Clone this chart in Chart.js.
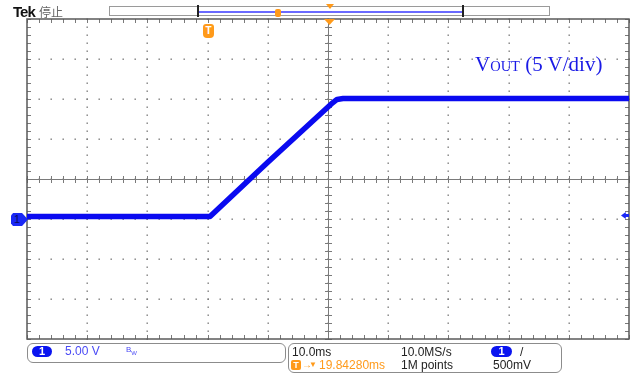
<!DOCTYPE html>
<html>
<head>
<meta charset="utf-8">
<script src="https://cdn.jsdelivr.net/npm/chart.js@4.4.1/dist/chart.umd.min.js"></script>
<style>
  body { margin: 0; background: #fff; }
  #wrap { position: relative; width: 633px; height: 376px; overflow: hidden; font-family: "Liberation Sans", Arial, sans-serif; }
  #wrap canvas { position: absolute; left: 0; top: 0; }
  .t { position: absolute; white-space: nowrap; font-size: 12px; line-height: 12px; color: #222; }
  .box { position: absolute; border: 1.5px solid #8c8c8c; border-radius: 6px; box-sizing: border-box; }
  .oval { position: absolute; background: #0a14f0; color: #fff; border-radius: 6px; font-size: 11px; line-height: 11px; text-align: center; font-weight: bold; }
  .orange { color: #ff9a1a; }
</style>
</head>
<body>
<div id="wrap">
  <canvas id="scope" width="633" height="376"></canvas>

  <!-- шапка -->
  <div class="t" style="left:13px;top:4px;font-size:15px;line-height:15px;font-weight:bold;letter-spacing:-1px;color:#111;">Tek</div>
  <div class="t" style="left:39px;top:5px;font-family:'Noto Sans CJK SC';font-size:12px;line-height:14px;color:#666;">停止</div>
  <div style="position:absolute;left:109px;top:6px;width:441px;height:10px;border:1px solid #9a9a9a;box-sizing:border-box;"></div>
  <div style="position:absolute;left:197px;top:5px;width:2px;height:12px;background:#222;"></div>
  <div style="position:absolute;left:462px;top:5px;width:2px;height:12px;background:#222;"></div>
  <div style="position:absolute;left:199px;top:11px;width:263px;height:2px;background:#6a6aff;"></div>
  <div style="position:absolute;left:275px;top:9px;width:6px;height:8px;background:#ff9a1a;border-radius:2px;"></div>
  <div style="position:absolute;left:326px;top:4px;width:8px;height:5px;background:#ff9a1a;clip-path:polygon(0 0,100% 0,50% 100%);"></div>
  <div style="position:absolute;left:324px;top:19px;width:11px;height:6px;background:#ff9a1a;clip-path:polygon(0 0,100% 0,50% 100%);"></div>
  <div style="position:absolute;left:203px;top:24px;width:11px;height:14px;background:#ff9a1a;border-radius:3px 3px 4px 4px;color:#fff;font-size:10px;line-height:13px;text-align:center;font-weight:bold;">T</div>

  <!-- подпись -->
  <div class="t" style="left:475px;top:54px;font-family:'Liberation Serif',serif;font-size:21px;line-height:21px;color:#1a1ae6;">V<span style="font-size:14.5px;">OUT</span> (5 V/div)</div>

  <!-- маркеры канала -->
  <div style="position:absolute;left:11px;top:213px;width:17px;height:13px;background:#1a28f5;clip-path:polygon(0 20%,12% 0,65% 0,100% 50%,65% 100%,12% 100%,0 80%);color:#0a0a60;font-size:11px;line-height:13px;padding-left:3px;box-sizing:border-box;">1</div>
  <div style="position:absolute;left:621px;top:212px;width:8px;height:7px;background:#1a28f5;clip-path:polygon(0 50%,60% 0,60% 30%,100% 30%,100% 70%,60% 70%,60% 100%);"></div>

  <!-- низ слева -->
  <div class="box" style="left:27px;top:343px;width:259px;height:20px;"></div>
  <div class="oval" style="left:32px;top:346px;width:20px;height:11px;">1</div>
  <div class="t" style="left:65px;top:345px;color:#4a4af5;">5.00 V</div>
  <div class="t" style="left:126px;top:346px;color:#4a4af5;font-size:8px;line-height:8px;">B<sub style="font-size:6px;">W</sub></div>

  <!-- низ справа -->
  <div class="box" style="left:288px;top:343px;width:274px;height:30px;"></div>
  <div class="t" style="left:292px;top:346px;">10.0ms</div>
  <div class="t" style="left:401px;top:346px;">10.0MS/s</div>
  <div class="oval" style="left:491px;top:346px;width:21px;height:11px;">1</div>
  <div class="t" style="left:520px;top:346px;">/</div>
  <div style="position:absolute;left:291px;top:360px;width:10px;height:10px;background:#ff9a1a;border-radius:2px;color:#fff;font-size:9px;line-height:10px;text-align:center;font-weight:bold;">T</div>
  <div class="t orange" style="left:302px;top:359px;font-size:10px;">→</div>
  <div class="t orange" style="left:309px;top:359px;font-size:8px;line-height:12px;">▼</div>
  <div class="t orange" style="left:319px;top:359px;">19.84280ms</div>
  <div class="t" style="left:401px;top:359px;">1M points</div>
  <div class="t" style="left:493px;top:359px;">500mV</div>
</div>

<script>
// осциллограмма канала 1, время в мс относительно центра экрана, напряжение в вольтах
const timeMs = [-50, -40, -30, -25, -19.6, -10, 0.5, 1.5, 2.5, 5, 10, 20, 30, 40, 50];
const voltsV = [0.3, 0.3, 0.3, 0.3, 0.3, 7.1, 14.35, 14.95, 15.05, 15.05, 15.05, 15.05, 15.05, 15.05, 15.05];

// сетка: 10 мс/дел, 5 В/дел, по 5 мелких делений
const timeDiv = 10;
const voltDiv = 5;
const timeRange = [-50, 50];
const voltRange = [-15, 25];

// рисует сетку осциллографа по шкалам графика
const graticule = {
	id: "graticule",
	beforeDatasetsDraw(chart) {
		const { ctx, chartArea: a, scales: { x, y } } = chart;
		const cx = x.getPixelForValue(0);
		const cy = y.getPixelForValue(voltRange[0] + 4 * voltDiv);
		const xMinor = [];
		const yMinor = [];
		for (let t = timeRange[0]; t <= timeRange[1] + 1e-6; t += timeDiv / 5) xMinor.push(x.getPixelForValue(t));
		for (let v = voltRange[0]; v <= voltRange[1] + 1e-6; v += voltDiv / 5) yMinor.push(y.getPixelForValue(v));
		ctx.save();
		// точки
		ctx.fillStyle = "#7a7a7a";
		for (let t = timeRange[0] + timeDiv; t < timeRange[1]; t += timeDiv) {
			const px = Math.round(x.getPixelForValue(t));
			yMinor.forEach((py) => ctx.fillRect(px - 0.5, Math.round(py) - 0.5, 1.4, 1.4));
		}
		for (let v = voltRange[0] + voltDiv; v < voltRange[1]; v += voltDiv) {
			const py = Math.round(y.getPixelForValue(v));
			xMinor.forEach((px) => ctx.fillRect(Math.round(px) - 0.5, py - 0.5, 1.4, 1.4));
		}
		// центральный крест
		ctx.strokeStyle = "#7a7a7a";
		ctx.lineWidth = 1;
		ctx.beginPath();
		ctx.moveTo(Math.round(cx) + 0.5, a.top);
		ctx.lineTo(Math.round(cx) + 0.5, a.bottom);
		ctx.moveTo(a.left, Math.round(cy) + 0.5);
		ctx.lineTo(a.right, Math.round(cy) + 0.5);
		xMinor.forEach((px) => {
			ctx.moveTo(Math.round(px) + 0.5, cy - 3);
			ctx.lineTo(Math.round(px) + 0.5, cy + 4);
			ctx.moveTo(Math.round(px) + 0.5, a.top);
			ctx.lineTo(Math.round(px) + 0.5, a.top + 4);
			ctx.moveTo(Math.round(px) + 0.5, a.bottom);
			ctx.lineTo(Math.round(px) + 0.5, a.bottom - 4);
		});
		yMinor.forEach((py) => {
			ctx.moveTo(cx - 3, Math.round(py) + 0.5);
			ctx.lineTo(cx + 4, Math.round(py) + 0.5);
			ctx.moveTo(a.left, Math.round(py) + 0.5);
			ctx.lineTo(a.left + 4, Math.round(py) + 0.5);
			ctx.moveTo(a.right, Math.round(py) + 0.5);
			ctx.lineTo(a.right - 4, Math.round(py) + 0.5);
		});
		ctx.stroke();
		// рамка
		ctx.strokeStyle = "#5a5a5a";
		ctx.lineWidth = 1.5;
		ctx.strokeRect(a.left, a.top, a.right - a.left, a.bottom - a.top);
		ctx.restore();
	},
};

const ctx = document.getElementById("scope");

const config = {
	type: "line",
	data: {
		datasets: [
			{
				data: timeMs.map((t, i) => ({ x: t, y: voltsV[i] })),
				borderColor: "#0a0af0",
				borderWidth: 5.5,
				pointRadius: 0,
				tension: 0,
				borderJoinStyle: "round",
			},
		],
	},
	options: {
		responsive: false,
		animation: false,
		events: [],
		layout: {
			padding: { left: 27, top: 19, right: 4, bottom: 37 },
		},
		plugins: {
			legend: { display: false },
			tooltip: { enabled: false },
		},
		scales: {
			x: { type: "linear", min: timeRange[0], max: timeRange[1], display: false },
			y: { type: "linear", min: voltRange[0], max: voltRange[1], display: false },
		},
	},
	plugins: [graticule],
};

new Chart(ctx, config);
</script>
</body>
</html>
